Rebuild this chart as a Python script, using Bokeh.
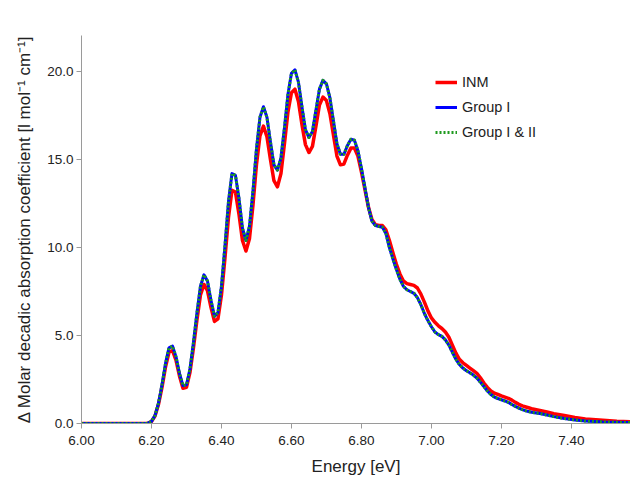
from bokeh.plotting import figure
from bokeh.models import Range1d, FixedTicker, Legend, LegendItem, CustomJSTickFormatter
from bokeh.embed import file_html
from bokeh.resources import INLINE

# ---- data ----
energy = [
    6.00, 6.18,
    6.19, 6.20, 6.21, 6.22, 6.23, 6.24, 6.25, 6.26, 6.27, 6.28,
    6.29, 6.30, 6.31, 6.32, 6.33, 6.34, 6.35, 6.36, 6.37, 6.38,
    6.39, 6.40, 6.41, 6.42, 6.43, 6.44, 6.45, 6.46, 6.47, 6.48,
    6.49, 6.50, 6.51, 6.52, 6.53, 6.54, 6.55, 6.56, 6.57, 6.58,
    6.59, 6.60, 6.61, 6.62, 6.63, 6.64, 6.65, 6.66, 6.67, 6.68,
    6.69, 6.70, 6.71, 6.72, 6.73, 6.74, 6.75, 6.76, 6.77, 6.78,
    6.79, 6.80, 6.81, 6.82, 6.83, 6.84, 6.85, 6.86, 6.87, 6.88,
    6.89, 6.90, 6.91, 6.92, 6.93, 6.94, 6.95, 6.96, 6.97, 6.98,
    6.99, 7.00, 7.01, 7.02, 7.03, 7.04, 7.05, 7.06, 7.07, 7.08,
    7.09, 7.10, 7.11, 7.12, 7.13, 7.14, 7.15, 7.16, 7.17, 7.18,
    7.19, 7.20, 7.21, 7.22, 7.23, 7.24, 7.25, 7.26, 7.27, 7.28,
    7.29, 7.30, 7.31,
    7.33, 7.35, 7.38, 7.41, 7.44, 7.49, 7.53, 7.57,
]

inm = [
    0.0, 0.0,
    0.02, 0.11, 0.42, 1.08, 2.05, 3.2, 4.05, 4.15, 3.6, 2.7,
    2.0, 2.05, 2.9, 4.3, 5.9, 7.3, 7.9, 7.55, 6.6, 5.8,
    5.95, 7.3, 9.4, 11.7, 13.25, 13.15, 11.9, 10.4, 9.8, 10.5,
    12.4, 14.7, 16.35, 16.9, 16.3, 15.0, 13.8, 13.45, 14.2, 15.9,
    17.7, 18.8, 19.0, 18.3, 17.0, 15.85, 15.4, 15.75, 16.9, 18.1,
    18.55, 18.35, 17.6, 16.4, 15.2, 14.7, 14.75, 15.25, 15.65, 15.65,
    15.2, 14.3, 13.3, 12.3, 11.6, 11.3, 11.25, 11.25, 11.0, 10.4,
    9.7, 9.05, 8.5, 8.1, 7.95, 7.9, 7.85, 7.7, 7.35, 6.9,
    6.4, 6.0, 5.75, 5.55, 5.4, 5.2, 4.9, 4.45, 4.0, 3.65,
    3.45, 3.3, 3.15, 3.0, 2.85, 2.6, 2.3, 2.05, 1.85, 1.72,
    1.65, 1.57, 1.5, 1.43, 1.33, 1.2, 1.09, 1.0, 0.94, 0.88,
    0.82, 0.78, 0.74,
    0.65, 0.55, 0.45, 0.34, 0.26, 0.18, 0.13, 0.1,
]

group_1 = [
    0.0, 0.0,
    0.02, 0.12, 0.45, 1.15, 2.2, 3.4, 4.3, 4.4, 3.8, 2.85,
    2.15, 2.2, 3.1, 4.6, 6.3, 7.8, 8.45, 8.1, 7.0, 6.1,
    6.3, 7.8, 10.1, 12.6, 14.2, 14.1, 12.8, 11.1, 10.4, 11.2,
    13.2, 15.6, 17.4, 18.0, 17.4, 16.0, 14.7, 14.4, 15.1, 16.8,
    18.7, 19.9, 20.1, 19.4, 18.0, 16.7, 16.25, 16.6, 17.8, 19.0,
    19.5, 19.3, 18.5, 17.2, 15.9, 15.3, 15.3, 15.8, 16.15, 16.1,
    15.5, 14.5, 13.4, 12.3, 11.5, 11.25, 11.2, 11.15, 10.8, 10.0,
    9.35, 8.75, 8.2, 7.8, 7.6, 7.5, 7.4, 7.15, 6.75, 6.25,
    5.85, 5.5, 5.2, 5.05, 4.95, 4.75, 4.45, 4.05, 3.65, 3.35,
    3.15, 3.0, 2.88, 2.75, 2.58, 2.35, 2.1, 1.85, 1.65, 1.5,
    1.42, 1.35, 1.28, 1.2, 1.08, 0.97, 0.87, 0.79, 0.72, 0.67,
    0.63, 0.6, 0.57,
    0.48, 0.39, 0.28, 0.2, 0.14, 0.09, 0.07, 0.05,
]

# Group I & II coincides with Group I in the reference
group_1_2 = list(group_1)

x_ticks = [6.00, 6.20, 6.40, 6.60, 6.80, 7.00, 7.20, 7.40]
y_ticks = [0.0, 5.0, 10.0, 15.0, 20.0]

assert len(energy) == len(inm) == len(group_1) == len(group_1_2)

FONT = "Liberation Sans"
TXT = "#222222"
AX = "#9a9a9a"

p = figure(width=630, height=479, output_backend="svg", toolbar_location=None,
           x_range=Range1d(6.0, 7.569), y_range=Range1d(0, 22.05),
           min_border_left=81, min_border_right=0, min_border_top=35,
           min_border_bottom=56)
p.outline_line_color = None
p.xgrid.grid_line_color = None
p.ygrid.grid_line_color = None
p.background_fill_color = "white"
p.border_fill_color = "white"

r_inm = p.line(energy, inm, line_color="#ff0000", line_width=3.5, line_join="round")
r_g1 = p.line(energy, group_1, line_color="#0000ff", line_width=3, line_join="round")
r_g12 = p.line(energy, group_1_2, line_color="#1f9a1f", line_width=3, line_dash="2 2",
               line_join="round")

for ax in (p.xaxis[0], p.yaxis[0]):
    ax.axis_line_color = AX
    ax.major_tick_line_color = AX
    ax.minor_tick_line_color = None
    ax.major_tick_out = 5
    ax.major_tick_in = 0
    ax.major_label_text_font = FONT
    ax.major_label_text_font_size = "13.5px"
    ax.major_label_text_color = TXT
    ax.axis_label_text_font = FONT
    ax.axis_label_text_font_size = "17px"
    ax.axis_label_text_font_style = "normal"
    ax.axis_label_text_color = TXT

p.xaxis.ticker = FixedTicker(ticks=x_ticks)
p.yaxis.ticker = FixedTicker(ticks=y_ticks)
p.xaxis.formatter = CustomJSTickFormatter(code="return tick.toFixed(2);")
p.yaxis.formatter = CustomJSTickFormatter(code="return tick.toFixed(1);")
p.xaxis.major_label_standoff = 7
p.yaxis.major_label_standoff = 3
p.xaxis.axis_label = "Energy [eV]"
p.xaxis.axis_label_standoff = 9
p.yaxis.axis_label = "\u0394 Molar decadic absorption coefficient [l mol\u207b\u00b9 cm\u207b\u00b9]"
p.yaxis.axis_label_standoff = 10

legend = Legend(items=[
    LegendItem(label="INM", renderers=[r_inm]),
    LegendItem(label="Group I", renderers=[r_g1]),
    LegendItem(label="Group I & II", renderers=[r_g12]),
], location=(354, 281))
legend.border_line_color = None
legend.background_fill_alpha = 0
legend.padding = 0
legend.margin = 0
legend.spacing = 5
legend.glyph_width = 22
legend.glyph_height = 20
legend.label_height = 20
legend.label_standoff = 5
legend.label_text_font = FONT
legend.label_text_font_size = "14.5px"
legend.label_text_color = TXT
p.add_layout(legend, "center")

open("out.html", "w").write(file_html(p, INLINE))
